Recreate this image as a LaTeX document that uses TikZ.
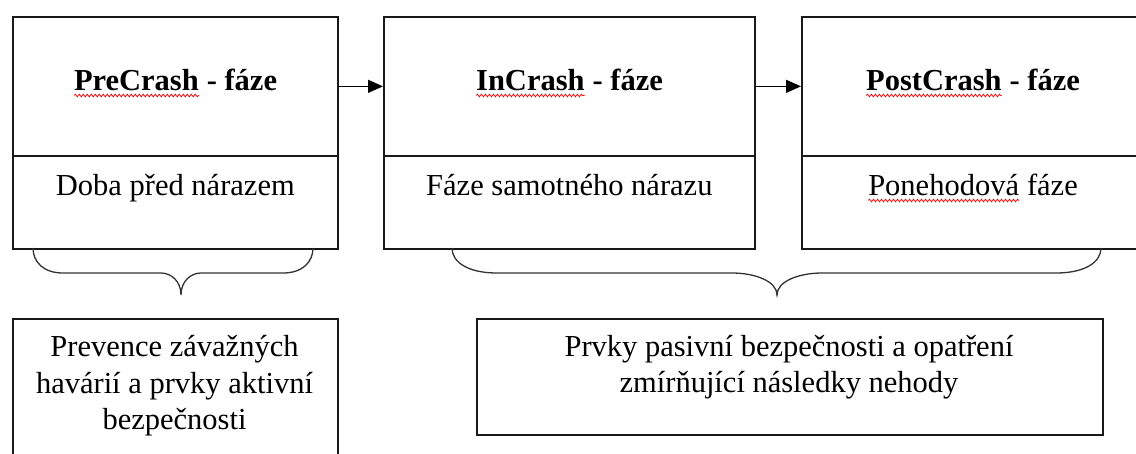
\documentclass[tikz,border=0pt]{standalone}
\usepackage{fontspec}
\setmainfont{Liberation Serif}
\usetikzlibrary{arrows.meta,decorations.pathmorphing}

% word with a wavy red underline
\newcommand\spellmark[1]{\begin{tikzpicture}[baseline=(w.base)]\node[draw=none,inner sep=0pt,outer sep=0pt,anchor=base,minimum size=0pt] (w) {#1};\draw[spellline] ([yshift=-5.5pt]w.base west) -- ([yshift=-5.5pt]w.base east);\end{tikzpicture}}

% curly brace: left end, tip, right end, end-curve length, tip-curve length
\newcommand\hbrace[5]{%
  \draw[brace] (#1,248) .. controls (#1,262) and ({#1+0.35*#4},273) .. ({#1+#4},273)
    -- ({#2-#5},273) .. controls ({#2-0.5*#5},273) and (#2,281) .. (#2,295)
    .. controls (#2,281) and ({#2+0.5*#5},273) .. ({#2+#5},273)
    -- ({#3-#4},273) .. controls ({#3-0.35*#4},273) and (#3,262) .. (#3,248);}

\tikzset{
  frame/.style={draw=black!90, line width=1.7pt, inner sep=0pt, anchor=north west},
  phase/.style={font=\fontsize{30.5}{36.5}\selectfont\bfseries, anchor=base, inner sep=0pt},
  note/.style={font=\fontsize{30.5}{36.5}\selectfont, anchor=base, inner sep=0pt},
  block/.style={font=\fontsize{30.5}{36.5}\selectfont, align=center, inner sep=0pt},
  flow/.style={line width=1.4pt, -{Triangle[length=15pt,width=13pt]}},
  brace/.style={draw=black!80, line width=1.3pt},
  spellline/.style={draw=red, line width=0.7pt, decorate,
    decoration={snake, amplitude=1.4pt, segment length=4pt}},
}

\begin{document}
\begin{tikzpicture}[x=1pt, y=-1pt]
  \useasboundingbox (0,0) rectangle (1136,453);
  \fill[white] (0,0) rectangle (1136,453);
  \clip (0,0) rectangle (1136,453);

  % phase boxes, each split into a title part and a description part
  \node[frame, minimum width=325pt, minimum height=139pt] (preT) at (12,16) {};
  \node[frame, minimum width=325pt, minimum height=93pt] (preB) at (12,155) {};
  \node[frame, minimum width=371pt, minimum height=139pt] (inT) at (383,16) {};
  \node[frame, minimum width=371pt, minimum height=93pt] (inB) at (383,155) {};
  \node[frame, minimum width=342pt, minimum height=139pt] (postT) at (801,16) {};
  \node[frame, minimum width=342pt, minimum height=93pt] (postB) at (801,155) {};

  \node[phase] (preTitle) at ([yshift=-74pt]preT.north) {\spellmark{PreCrash} - fáze};
  \node[phase] (inTitle) at ([yshift=-74pt]inT.north) {\spellmark{InCrash} - fáze};
  \node[phase] (postTitle) at ([yshift=-74pt]postT.north) {\spellmark{PostCrash} - fáze};

  \node[note] (preNote) at ([yshift=-40pt]preB.north) {Doba před nárazem};
  \node[note] (inNote) at ([yshift=-40pt]inB.north) {Fáze samotného nárazu};
  \node[note] (postNote) at ([yshift=-40pt]postB.north) {\spellmark{Ponehodová} fáze};

  % sequence of phases
  \draw[flow] (preT.east) -- (inT.west);
  \draw[flow] (inT.east) -- (postT.west);

  % grouping braces
  \hbrace{33}{181}{313}{30}{20}
  \hbrace{452}{777}{1101}{45}{45}

  % measures for each group
  \node[frame, minimum width=325pt, minimum height=160pt] (activeBox) at (12,318) {};
  \node[block] (activeText) at (174.5,386) {Prevence závažných\\havárií a prvky aktivní\\bezpečnosti};
  \node[frame, minimum width=626pt, minimum height=116pt] (passiveBox) at (476,318) {};
  \node[block] (passiveText) at (789,367) {Prvky pasivní bezpečnosti a opatření\\zmírňující následky nehody};
\end{tikzpicture}
\end{document}
